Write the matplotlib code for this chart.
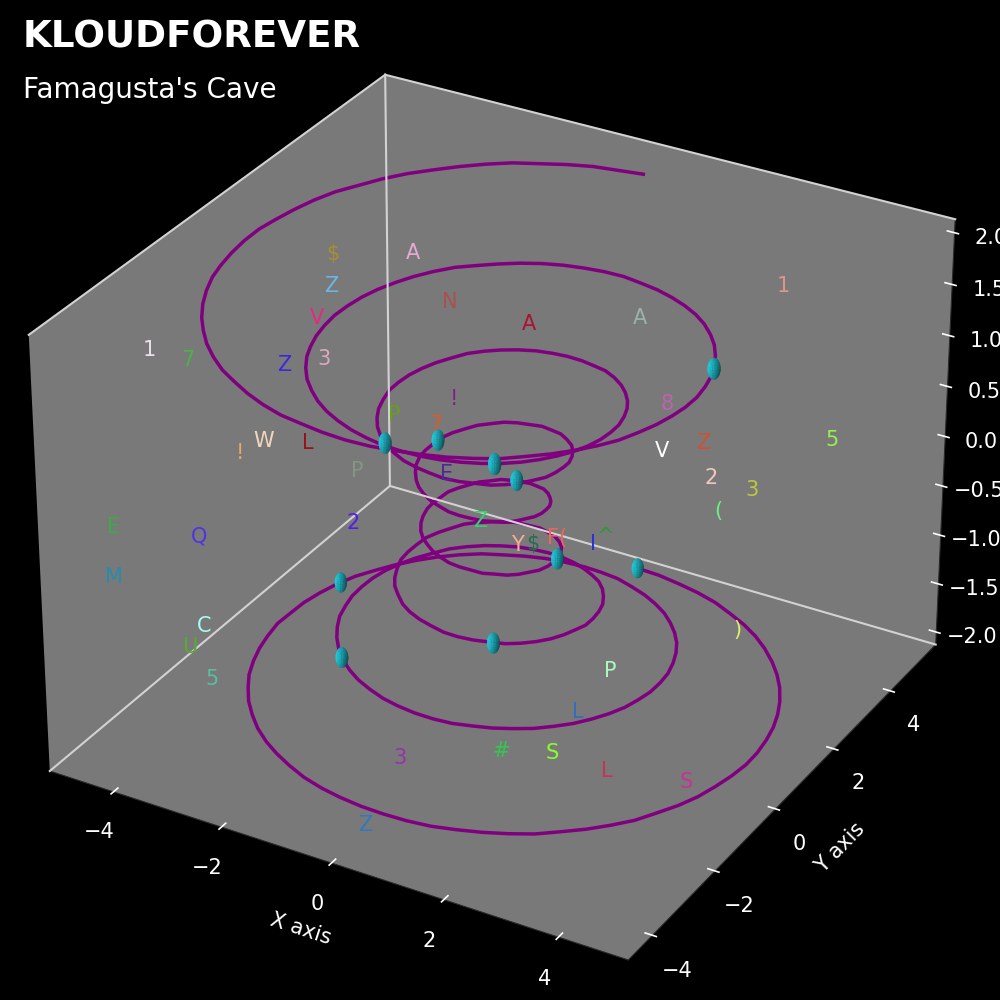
import numpy as np
import matplotlib
matplotlib.use('Agg')
import matplotlib.pyplot as plt

# helix, x and y in hundredths of a data unit, z in data units
helix_x = [0,86,168,243,309,365,408,437,451,450,434,404,360,305,240,168,91,13,-65,-139,-205,-263,-309,-342,-360,
-364,-353,-327,-288,-237,-177,-111,-41,29,96,157,209,250,277,289,286,269,238,195,142,83,20,-41,-99,-149,
-188,-215,-227,-224,-206,-175,-133,-83,-28,26,77,121,153,172,177,166,142,106,62,14,-34,-77,-111,-132,
-139,-132,-110,-77,-36,7,48,82,104,114,110,93,65,31,-6,-41,-71,-92,-101,-98,-84,-60,
-29,6,39,69,90,101,99,86,62,30,-6,-42,-75,-99,-113,-112,-99,-72,-36,7,50,89,119,136,138,126,99,60,14,-34,
-82,-124,-155,-173,-176,-164,-138,-99,-51,4,59,112,159,195,218,227,221,199,164,117,61,0,-63,-124,-180,
-227,-262,-283,-290,-281,-257,-220,-170,-110,
-44,26,97,165,227,280,321,350,364,362,346,314,269,212,146,73,-5,-85,-162,-235,-301,-357,-402,-433,-449,
-451,-437,-409,-366,-310,-243,-168,-85,0]
helix_y = [500,487,459,418,364,300,227,149,67,-16,-97,-173,-242,-301,-348,-383,-402,-407,-396,-371,-333,-282,-221,-153,-81,-6,67,136,197,249,288,314,325,321,303,270,225,171,109,44,-23,-86,-143,-191,-227,-249,-257,-250,-228,-193,-147,-94,-36,23,78,126,164,189,200,196,177,146,104,55,3,-47,-91,-126,-149,-157,-150,-129,-96,-54,-9,36,75,105,122,124,112,87,53,14,-26,-61,-87,-103,-106,-96,-76,-46,-12,23,55,80,96,100,92,73,45,12,-23,-56,-83,-101,-106,-99,-80,-50,-13,26,64,96,117,125,118,96,62,20,-26,-71,-110,-139,-155,-155,-140,-112,-71,-23,29,80,127,164,189,200,196,177,143,98,45,-13,-72,-128,-178,-217,-244,-256,-253,-235,-203,-158,-102,-40,26,93,156,213,261,297,319,326,318,294,257,207,146,78,5,-70,-144,-213,-275,-328,-368,-395,-407,-403,-385,-351,-305,-246,-177,-101,-20,64,146,226,299,364,418,459,487,500]
helix_z = [-2.00,-1.99,-1.97,-1.96,-1.94,-1.93,-1.92,-1.90,-1.89,-1.87,-1.86,-1.84,-1.83,-1.81,-1.80,-1.78,-1.77,-1.75,-1.74,-1.72,-1.71,-1.69,-1.67,-1.66,-1.64,-1.63,-1.61,-1.59,-1.58,-1.56,-1.54,-1.53,-1.51,-1.49,-1.48,-1.46,-1.44,-1.42,-1.40,-1.39,-1.37,-1.35,-1.33,-1.31,-1.29,-1.28,-1.26,-1.24,-1.22,-1.20,-1.18,-1.16,-1.14,-1.12,-1.10,-1.08,-1.05,-1.03,-1.01,-0.99,-0.97,-0.94,-0.92,-0.90,-0.88,-0.85,-0.83,-0.81,-0.78,-0.76,-0.73,-0.71,-0.68,-0.66,-0.63,-0.60,-0.58,-0.55,-0.52,-0.50,-0.47,-0.44,-0.41,-0.38,-0.36,-0.33,-0.30,-0.27,-0.25,-0.22,-0.19,-0.16,-0.13,-0.11,-0.08,-0.05,-0.02,0.00,0.03,0.06,0.09,0.12,0.14,0.17,0.20,0.23,0.25,0.28,0.31,0.34,0.37,0.39,0.42,0.45,0.48,0.50,0.53,0.56,0.59,0.61,0.64,0.67,0.69,0.72,0.74,0.77,0.79,0.82,0.84,0.86,0.89,0.91,0.93,0.96,0.98,1.00,1.02,1.05,1.07,1.09,1.11,1.13,1.15,1.17,1.19,1.21,1.23,1.25,1.27,1.29,1.31,1.33,1.35,1.36,1.38,1.40,1.42,1.44,1.45,1.47,1.49,1.51,1.52,1.54,1.56,1.57,1.59,1.61,1.62,1.64,1.66,1.67,1.69,1.70,1.72,1.74,1.75,1.77,1.78,1.80,1.81,1.83,1.84,1.86,1.87,1.89,1.90,1.92,1.93,1.94,1.96,1.97,1.99,2.00]

# further helix samples lying between the samples above, all in hundredths
helix_between_x = [43,127,206,277,339,388,424,446,453,444,421,384,334,274,205,130,52,-27,-103,-173,-236,-288,-328,-353,
-365,-361,-342,-309,-264,-208,-144,-76,-5,64,128,185,231,265,285,290,280,255,217,169,113,52,-11,-71,
-125,-170,-203,-222,-227,-217,-192,-155,-108,-56,-1,53,100,139,165,176,173,156,125,85,38,-11,-57,-95,
-123,-138,-137,-122,-95,-57,-15,28,66,95,111,114,103,80,49,13,-24,-57,-83,-98,-101,-93,-73,-45,-12,
23,55,80,97,102,94,75,47,13,-24,-60,-88,-108,-114,-107,-87,-55,-15,29,71,106,129,139,134,114,81,38,
-10,-59,-104,-141,-166,-177,-172,-153,-120,-76,-24,31,86,136,178,208,225,226,212,183,142,90,31,-32,
-94,-153,-204,-246,-274,-288,-287,-271,-240,-196,-141,-78,-9,62,132,197,255,302,337,359,365,356,332,
293,242,180,110,34,-45,-124,-199,-269,-331,-381,-419,-443,-452,-446,-425,-389,-339,-278,-207,-127,
-43]
helix_between_y = [495,475,440,393,333,265,189,108,25,-57,-136,-209,-273,-326,-367,-394,-406,-404,-386,-354,-309,-253,
-188,-117,-43,31,102,168,224,270,303,322,325,314,288,249,199,141,77,10,-55,-115,-168,-210,-240,-255,
-255,-240,-212,-171,-121,-65,-6,51,103,147,179,197,200,188,163,126,80,29,-22,-70,-110,-139,-155,-155,
-141,-113,-76,-32,14,57,92,115,125,120,101,71,34,-6,-44,-75,-97,-106,-103,-87,-62,-30,6,40,69,89,99,
97,84,60,29,-6,-40,-71,-93,-105,-104,-91,-66,-33,6,46,81,108,123,124,109,81,42,-3,-49,-92,-126,-149,
-157,-150,-128,-93,-48,3,55,104,147,178,197,200,188,162,122,73,16,-43,-101,-154,-199,-232,-252,-257,
-246,-221,-182,-131,-72,-7,60,125,186,239,280,310,324,324,308,277,233,178,113,42,-33,-107,-179,-245,
-303,-349,-383,-402,-407,-396,-370,-330,-277,-213,-140,-61,22,105,187,263,332,392,440,475,495]
helix_between_z = [-199,-198,-197,-195,-194,-192,-191,-189,-188,-186,-185,-184,-182,-181,-179,-178,-176,-174,-173,-171,
-170,-168,-167,-165,-163,-162,-160,-159,-157,-155,-154,-152,-150,-148,-147,-145,-143,-141,-140,-138,
-136,-134,-132,-130,-128,-127,-125,-123,-121,-119,-117,-115,-113,-111,-109,-106,-104,-102,-100,-98,
-96,-93,-91,-89,-86,-84,-82,-79,-77,-74,-72,-69,-67,-64,-62,-59,-56,-54,-51,-48,-45,-43,-40,-37,-34,
-32,-29,-26,-23,-20,-18,-15,-12,-9,-7,-4,-1,2,5,7,10,13,16,18,21,24,27,30,32,35,38,41,43,46,49,52,55,
57,60,63,65,68,70,73,76,78,80,83,85,88,90,92,95,97,99,101,103,106,108,110,112,114,116,118,120,122,
124,126,128,130,132,134,135,137,139,141,143,145,146,148,150,152,153,155,157,158,160,162,163,165,166,
168,170,171,173,174,176,177,179,180,182,183,185,186,188,189,191,192,194,195,197,198,199]

# small spheres sitting on the helix
sphere_x = [0.0,-3.39,-1.53,0.91,1.13,-0.03,-1.1,-1.08,1.34,3.41]
sphere_y = [5.0,1.1,-1.89,-1.36,0.26,1.0,0.38,-1.25,-2.06,1.04]
sphere_z = [-2.0,-1.6,-1.2,-0.8,-0.39,0.0,0.4,0.81,1.2,1.6]
sphere_radius = 0.1

# scattered characters
char_labels = ['$','A','Z','V','N','A','A','1','1','7','Z','3','W','L','!','P','P','!','8','V','Z','2','3','5','(','E','7','Z','Y','$','F','(','I','^','2','E','Q','M','C','U','5',')','P','L','3','#','S','L','S','Z']
char_x = [-2.85,-1.79,-2.32,-1.96,-0.47,0.5,1.89,3.31,-3.62,-3.41,-2.51,-2.08,-2.4,-2.21,-2.96,-1.53,-1.09,-0.55,2,1.88,2.7,2.59,2.96,4.04,2.81,-0.68,-0.79,-0.28,0.59,0.4,0.97,1.09,1.22,1.29,-1.57,-4.29,-3.43,-4.33,-3.17,-3.43,-3.03,3.05,1.53,1.33,-0.43,0.85,1.57,2.57,3.8,0.09]
char_y = [0.17,0.82,-0.75,-1.75,-0.29,0.44,1.46,3.5,-3.88,-3.15,-1.85,-1.38,-2.65,-1.68,-2.47,-1.36,-0.96,-0.05,2.18,2.26,2.09,2.6,3.3,3.91,2.44,-0.06,-0.2,0.3,-0.06,0.77,0.41,0.48,1.24,1.53,-1.43,-4.04,-2.96,-4.02,-3.3,-3.31,-3.32,2.75,1.29,0.6,-1.98,-1.01,-0.66,-0.69,-0.35,-3.89]
char_z = [2,2,2,2,2,1.75,1.75,1.75,2,1.75,1.5,1.5,1,0.75,0.75,0.5,1,1,0.75,0.25,0.5,0,-0.25,0.25,-0.25,0.25,0.75,-0.25,-0.25,-0.5,-0.25,-0.25,-0.5,-0.5,0,0.25,0,-0.25,-0.75,-1,-1.25,-1.5,-1.75,-2,-2,-2,-2,-2,-2,-2]
char_colors = ['#aa8c32','#e6aad2','#6eb4e6','#e62882','#aa5050','#aa1432','#96b4aa','#dc968c','#ebe1eb','#46b446','#3c28dc','#dcaabe','#f0d7be','#96141e','#e6aa64','#829682','#64a01e','#821e8c','#be64aa','#ffffff','#d25032','#f0c8be','#bec83c','#96f050','#6ef082','#502896','#dc5a28','#32d26e','#faaa96','#286e50','#f0645a','#f0645a','#2832d2','#32963c','#501ee6','#3caa46','#5032e6','#288caa','#aafaf0','#5aaa32','#5abea0','#dcf064','#aafabe','#326ebe','#9632aa','#32c850','#8cfa32','#c8325a','#c83296','#3278be']

ticks_xy = [-4,-2,0,2,4]
x_limits = (-5.2,5.2)
y_limits = (-4.75,5.65)
z_limits = (-2.13,2.13)

def merge(main, between):
    main = np.asarray(main, float)
    between = np.asarray(between, float)
    out = np.empty(len(main)+len(between))
    out[0::2] = main
    out[1::2] = between
    return out

plt.style.use('dark_background')
fig = plt.figure(figsize=(10,10),dpi=100)
ax = fig.add_axes([-0.028,-0.025,1.03,1.03],projection='3d')

if len(helix_between_x) == len(helix_between_y) == len(helix_between_z) == len(helix_x)-1:
    line_x = merge(np.array(helix_x)/100, np.array(helix_between_x)/100)
    line_y = merge(np.array(helix_y)/100, np.array(helix_between_y)/100)
    line_z = merge(helix_z, np.array(helix_between_z)/100)
else:
    line_x, line_y, line_z = np.array(helix_x)/100, np.array(helix_y)/100, np.array(helix_z)
ax.plot(line_x,line_y,line_z,color='purple',lw=2.5)

u = np.linspace(0,2*np.pi,24)
v = np.linspace(0,np.pi,14)
for sx,sy,sz in zip(sphere_x,sphere_y,sphere_z):
    ax.plot_surface(sx+sphere_radius*np.outer(np.cos(u),np.sin(v)),
                    sy+sphere_radius*np.outer(np.sin(u),np.sin(v)),
                    sz+sphere_radius*np.outer(np.ones_like(u),np.cos(v)),
                    color='#22d0e0',linewidth=0,antialiased=True)

for c,cx,cy,cz,col in zip(char_labels,char_x,char_y,char_z,char_colors):
    ax.text(cx,cy,cz,c,color=col,fontsize=15,ha='center',va='center')

ax.set_xticks(ticks_xy);ax.set_yticks(ticks_xy)
ax.set_xlabel('X axis',fontsize=15,labelpad=13)
ax.set_ylabel('Y axis',fontsize=15,labelpad=13)
ax.tick_params(labelsize=15,pad=8)
ax.grid(False)
for a in (ax.xaxis,ax.yaxis,ax.zaxis):
    a.set_pane_color((0.5,0.5,0.5,0.95))
    a.pane.set_edgecolor('none')
    a.line.set_color('#2a2a2a')
    a._axinfo['tick']['linewidth'][True] = 1.2
    a._axinfo['tick']['linewidth'][False] = 1.0
    a._axinfo['tick']['inward_factor'] = 0.08
    a._axinfo['tick']['outward_factor'] = 0.15

# bright rear edges of the box
x0,x1 = x_limits; y0,y1 = y_limits; z0,z1 = z_limits
for ex,ey,ez in [((x0,x0),(y1,y1),(z0,z1)),((x0,x1),(y1,y1),(z0,z0)),((x0,x0),(y0,y1),(z0,z0)),
                 ((x0,x0),(y0,y1),(z1,z1)),((x0,x1),(y1,y1),(z1,z1))]:
    ax.plot(ex,ey,ez,color='#d2d2d2',lw=1.5)
ax.set_xlim(*x_limits);ax.set_ylim(*y_limits);ax.set_zlim(*z_limits)

fig.text(0.023,0.9635,'KLOUDFOREVER',fontsize=26.8,fontweight='bold',va='center')
fig.text(0.023,0.91,"Famagusta's Cave",fontsize=20.1,va='center')
fig.savefig('out.png',dpi=100)
